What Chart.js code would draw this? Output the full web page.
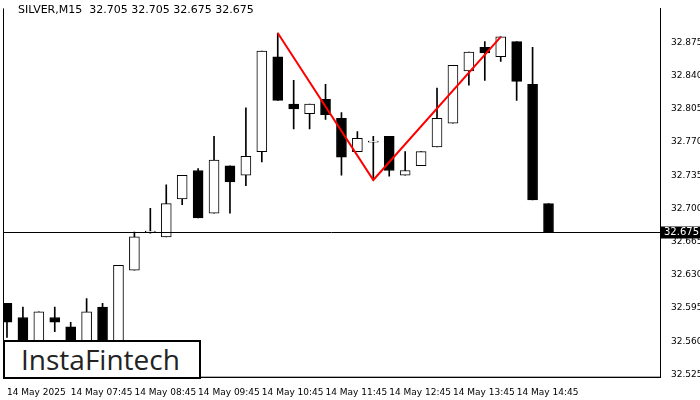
<!DOCTYPE html>
<html><head><meta charset="utf-8">
<script src="https://cdn.jsdelivr.net/npm/chart.js@4"></script>
<style>
body{margin:0;background:#fff;}
#wrap{position:relative;width:700px;height:400px;}
#title{position:absolute;left:18px;top:3px;font:11px "DejaVu Sans",sans-serif;color:#000;}
#logo{position:absolute;left:3px;top:340px;width:178px;height:35px;border:2px solid #000;background:#fff;font:28px "Open Sans",sans-serif;color:#222;line-height:35px;padding-left:16px;box-sizing:content-box;}
</style></head><body>
<div id="wrap"><canvas id="c" width="700" height="400"></canvas>
<div id="title">SILVER,M15&nbsp; 32.705 32.705 32.675 32.675</div>
<div id="logo">InstaFintech</div></div>
<script>
const opens  = [32.600,32.585,32.555,32.585,32.575,32.555,32.596,32.550,32.635,32.675,32.670,32.710,32.740,32.695,32.745,32.735,32.760,32.860,32.810,32.800,32.815,32.795,32.760,32.770,32.776,32.735,32.745,32.765,32.790,32.845,32.870,32.860,32.876,32.831,32.705];
const highs  = [32.600,32.596,32.591,32.596,32.580,32.605,32.600,32.640,32.675,32.700,32.725,32.735,32.742,32.776,32.745,32.806,32.866,32.885,32.835,32.810,32.831,32.801,32.781,32.776,32.776,32.760,32.760,32.827,32.851,32.865,32.876,32.881,32.876,32.870,32.705];
const lows   = [32.564,32.545,32.550,32.570,32.545,32.550,32.545,32.545,32.635,32.674,32.670,32.704,32.690,32.695,32.695,32.724,32.749,32.814,32.784,32.784,32.794,32.735,32.760,32.730,32.734,32.735,32.745,32.765,32.790,32.830,32.835,32.855,32.814,32.709,32.675];
const closes = [32.580,32.555,32.591,32.580,32.550,32.591,32.550,32.640,32.670,32.676,32.705,32.735,32.690,32.751,32.728,32.755,32.866,32.814,32.805,32.810,32.799,32.754,32.774,32.771,32.740,32.740,32.760,32.795,32.851,32.865,32.864,32.881,32.834,32.709,32.675];
const timeLabels = ["14 May 2025","14 May 07:45","14 May 08:45","14 May 09:45","14 May 10:45","14 May 11:45","14 May 12:45","14 May 13:45","14 May 14:45"];
const yTicks = [32.525,32.560,32.595,32.630,32.665,32.700,32.735,32.770,32.805,32.840,32.875];
const patternX = [17,23,31];
const patternY = [32.885,32.730,32.881];
const lastPrice = 32.675;

const idx = opens.map((_,i)=>i);
const bodyData = idx.map(i=>{let a=opens[i],b=closes[i]; if(Math.abs(a-b)<0.0008){b=a+0.0008;} return {x:i,y:[a,b]};});
const wickData = idx.map(i=>({x:i,y:[lows[i],highs[i]]}));
const bodyFill = idx.map(i=>closes[i]>=opens[i]?'#fff':'#000');

const overlay = {id:'ov',
  afterDatasetsDraw(ch){
    const c=ch.ctx,y=ch.scales.y,a=ch.chartArea;
    const py=Math.round(y.getPixelForValue(lastPrice))+0.5;
    c.save();c.strokeStyle='#000';c.lineWidth=1;
    c.beginPath();c.moveTo(a.left,py);c.lineTo(a.right,py);c.stroke();
    c.fillStyle='#000';c.fillRect(a.right,py-6,40,12);
    c.fillStyle='#fff';c.font='10px "DejaVu Sans"';c.textBaseline='middle';c.fillText(lastPrice.toFixed(3),a.right+4,py);
    c.strokeStyle='#000';c.beginPath();c.moveTo(a.left+0.5,a.top);c.lineTo(a.left+0.5,a.bottom);c.lineTo(a.right,a.bottom);c.stroke();
    c.restore();
  }};

new Chart(document.getElementById('c'),{
  data:{datasets:[
    {type:'bar',data:wickData,backgroundColor:'#000',barThickness:1,grouped:false,order:2},
    {type:'bar',data:bodyData,backgroundColor:bodyFill,borderColor:'#000',borderWidth:1,borderSkipped:false,barThickness:10,grouped:false,order:1},
    {type:'line',data:patternX.map((x,i)=>({x,y:patternY[i]})),borderColor:'#ff0000',borderWidth:2,pointRadius:0,order:0}
  ]},
  options:{responsive:false,animation:false,
    layout:{padding:{left:3,top:0,right:0,bottom:0}},
    plugins:{legend:{display:false},tooltip:{enabled:false}},
    scales:{
      x:{type:'linear',offset:false,min:-0.25,max:41,grid:{display:false,offset:false},border:{color:'#000'},
        afterBuildTicks(s){s.ticks=timeLabels.map((_,k)=>({value:k*4}));},
        ticks:{autoSkip:false,maxRotation:0,align:'start',padding:2,color:'#000',font:{family:'DejaVu Sans',size:9},
          callback:(v)=>timeLabels[Math.round(v/4)]}},
      y:{position:'right',min:32.522,max:32.911,grid:{display:false},border:{color:'#000'},
        afterBuildTicks(s){s.ticks=yTicks.map(v=>({value:v}));},
        afterFit(s){s.width=40;},
        ticks:{autoSkip:false,color:'#000',padding:3,font:{family:'DejaVu Sans',size:9},callback:v=>v.toFixed(3)}}
    }},
  plugins:[overlay]
});
</script></body></html>
